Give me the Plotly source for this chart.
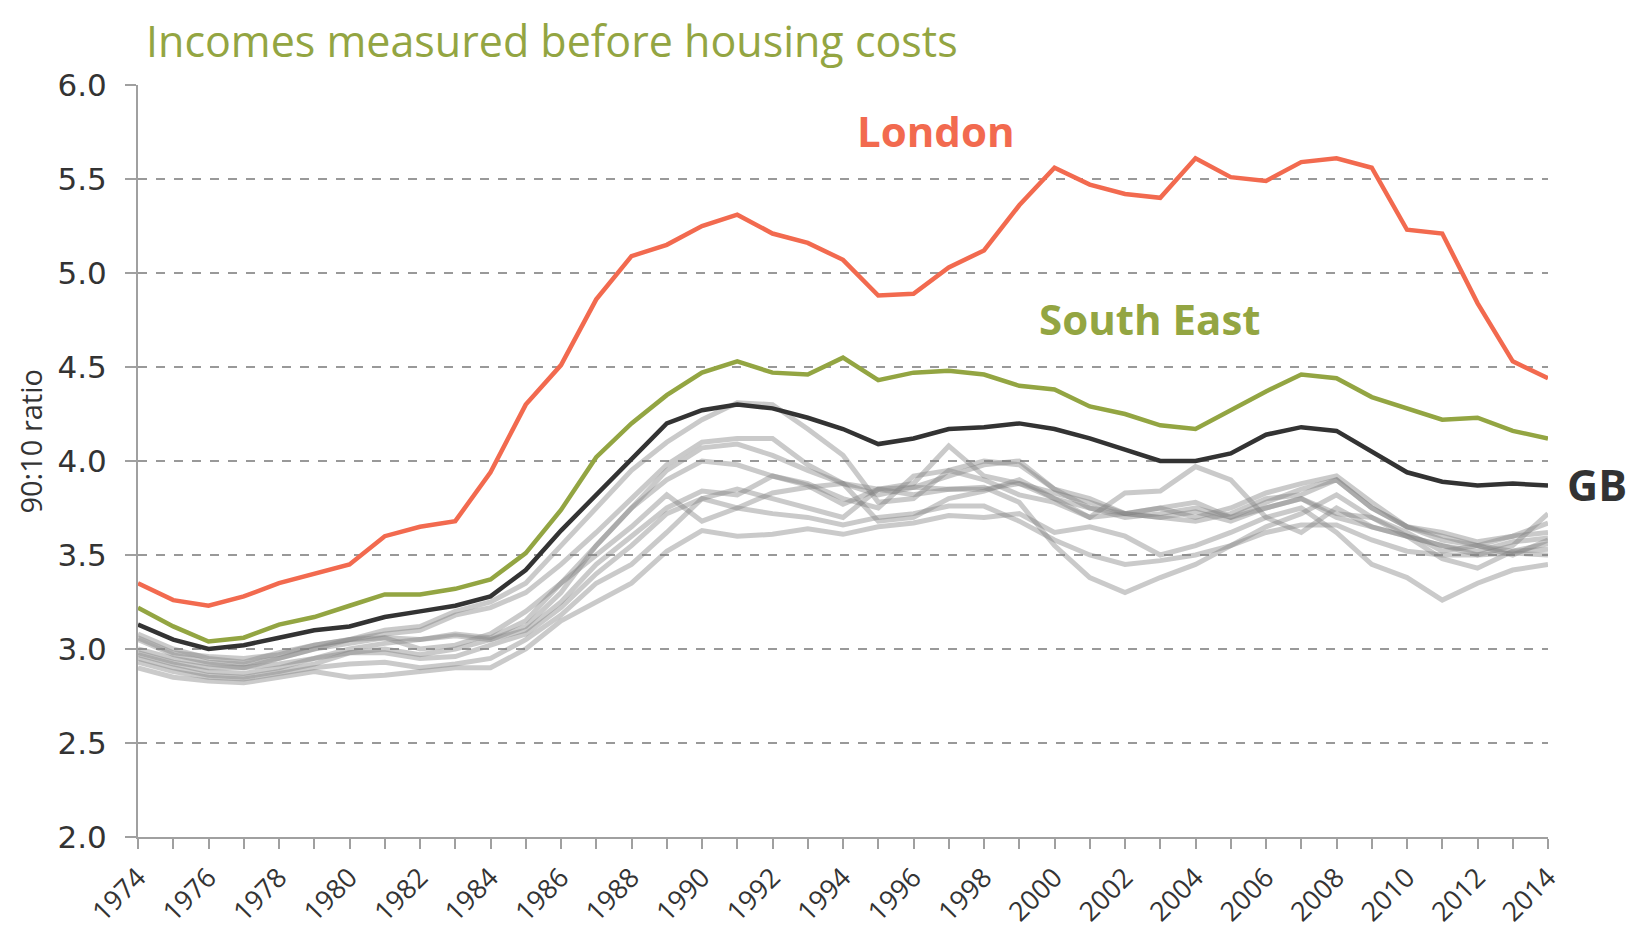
import plotly.graph_objects as go

years = list(range(1974, 2015))

london = [3.35, 3.26, 3.23, 3.28, 3.35, 3.40, 3.45, 3.60, 3.65, 3.68,
          3.94, 4.30, 4.51, 4.86, 5.09, 5.15, 5.25, 5.31, 5.21, 5.16,
          5.07, 4.88, 4.89, 5.03, 5.12, 5.36, 5.56, 5.47, 5.42, 5.40,
          5.61, 5.51, 5.49, 5.59, 5.61, 5.56, 5.23, 5.21, 4.84, 4.53, 4.44]

south_east = [3.22, 3.12, 3.04, 3.06, 3.13, 3.17, 3.23, 3.29, 3.29, 3.32,
              3.37, 3.51, 3.74, 4.02, 4.20, 4.35, 4.47, 4.53, 4.47, 4.46,
              4.55, 4.43, 4.47, 4.48, 4.46, 4.40, 4.38, 4.29, 4.25, 4.19,
              4.17, 4.27, 4.37, 4.46, 4.44, 4.34, 4.28, 4.22, 4.23, 4.16, 4.12]

gb = [3.13, 3.05, 3.00, 3.02, 3.06, 3.10, 3.12, 3.17, 3.20, 3.23,
      3.28, 3.42, 3.63, 3.82, 4.01, 4.20, 4.27, 4.30, 4.28, 4.23,
      4.17, 4.09, 4.12, 4.17, 4.18, 4.20, 4.17, 4.12, 4.06, 4.00,
      4.00, 4.04, 4.14, 4.18, 4.16, 4.05, 3.94, 3.89, 3.87, 3.88, 3.87]

region_1 = [3.05, 2.97, 2.93, 2.92, 2.95, 3.00, 3.05, 3.10, 3.12, 3.20,
            3.25, 3.35, 3.55, 3.75, 3.95, 4.10, 4.22, 4.31, 4.30, 4.17,
            4.03, 3.78, 3.80, 3.95, 3.90, 3.82, 3.78, 3.70, 3.83, 3.84,
            3.97, 3.90, 3.70, 3.62, 3.75, 3.65, 3.60, 3.55, 3.50, 3.55, 3.72]
region_2 = [3.08, 3.00, 2.95, 2.93, 2.98, 3.02, 3.05, 3.08, 3.10, 3.18,
            3.22, 3.30, 3.45, 3.62, 3.80, 3.98, 4.10, 4.12, 4.12, 3.98,
            3.88, 3.82, 3.86, 3.92, 3.98, 4.00, 3.85, 3.80, 3.72, 3.75,
            3.70, 3.75, 3.83, 3.88, 3.92, 3.78, 3.65, 3.58, 3.55, 3.52, 3.53]
region_3 = [3.06, 2.98, 2.96, 2.95, 2.97, 3.02, 3.05, 3.06, 3.05, 3.08,
            3.06, 3.15, 3.35, 3.55, 3.75, 3.95, 4.07, 4.09, 4.03, 3.95,
            3.88, 3.85, 3.88, 4.08, 3.92, 3.88, 3.80, 3.75, 3.70, 3.72,
            3.75, 3.70, 3.78, 3.85, 3.90, 3.75, 3.65, 3.60, 3.55, 3.50, 3.58]
region_4 = [3.00, 2.95, 2.92, 2.90, 2.92, 2.95, 3.00, 3.03, 3.05, 3.07,
            3.05, 3.12, 3.30, 3.55, 3.75, 3.90, 4.00, 3.98, 3.92, 3.88,
            3.80, 3.75, 3.92, 3.95, 4.00, 3.98, 3.85, 3.75, 3.72, 3.70,
            3.68, 3.72, 3.80, 3.82, 3.90, 3.75, 3.65, 3.62, 3.57, 3.60, 3.67]
region_5 = [2.98, 2.93, 2.90, 2.90, 2.95, 3.00, 3.03, 3.06, 3.00, 3.02,
            3.08, 3.20, 3.35, 3.50, 3.65, 3.82, 3.68, 3.75, 3.83, 3.86,
            3.88, 3.68, 3.70, 3.80, 3.84, 3.90, 3.80, 3.70, 3.72, 3.75,
            3.78, 3.70, 3.75, 3.80, 3.72, 3.70, 3.62, 3.52, 3.55, 3.60, 3.62]
region_6 = [2.97, 2.92, 2.88, 2.87, 2.90, 2.95, 2.98, 3.00, 2.97, 3.00,
            3.05, 3.10, 3.25, 3.45, 3.60, 3.75, 3.84, 3.82, 3.92, 3.87,
            3.77, 3.85, 3.82, 3.85, 3.85, 3.88, 3.83, 3.78, 3.72, 3.70,
            3.73, 3.68, 3.75, 3.80, 3.70, 3.65, 3.60, 3.55, 3.52, 3.57, 3.59]
region_7 = [2.95, 2.90, 2.86, 2.85, 2.88, 2.92, 2.98, 2.98, 2.95, 2.96,
            3.02, 3.08, 3.22, 3.40, 3.55, 3.72, 3.80, 3.85, 3.80, 3.75,
            3.70, 3.85, 3.86, 3.85, 3.86, 3.78, 3.55, 3.38, 3.30, 3.38,
            3.45, 3.55, 3.65, 3.72, 3.82, 3.70, 3.60, 3.48, 3.43, 3.52, 3.56]
region_8 = [2.93, 2.88, 2.85, 2.84, 2.87, 2.90, 2.92, 2.93, 2.90, 2.92,
            2.95, 3.05, 3.18, 3.35, 3.45, 3.62, 3.80, 3.75, 3.72, 3.70,
            3.66, 3.70, 3.72, 3.76, 3.76, 3.68, 3.58, 3.50, 3.45, 3.47,
            3.50, 3.55, 3.62, 3.66, 3.66, 3.58, 3.52, 3.50, 3.50, 3.51, 3.50]
region_9 = [2.90, 2.85, 2.83, 2.82, 2.85, 2.88, 2.85, 2.86, 2.88, 2.90,
            2.90, 3.00, 3.15, 3.25, 3.35, 3.52, 3.63, 3.60, 3.61, 3.64,
            3.61, 3.65, 3.67, 3.71, 3.70, 3.72, 3.62, 3.65, 3.60, 3.50,
            3.55, 3.62, 3.70, 3.75, 3.62, 3.45, 3.38, 3.26, 3.35, 3.42, 3.45]

regions = [region_1, region_2, region_3, region_4, region_5,
           region_6, region_7, region_8, region_9]

x_tick_text = [str(y) if y % 2 == 0 else "" for y in years]
y_tick_vals = [2.0, 2.5, 3.0, 3.5, 4.0, 4.5, 5.0, 5.5, 6.0]
y_tick_text = ["2.0", "2.5", "3.0", "3.5", "4.0", "4.5", "5.0", "5.5", "6.0"]

fig = go.Figure()
for r in regions:
    fig.add_trace(go.Scatter(x=years, y=r, mode="lines",
                             line=dict(color="rgba(128,128,128,0.42)", width=5),
                             hoverinfo="skip", showlegend=False))
fig.add_trace(go.Scatter(x=years, y=gb, mode="lines", name="GB",
                         line=dict(color="#333333", width=4.5), showlegend=False))
fig.add_trace(go.Scatter(x=years, y=south_east, mode="lines", name="South East",
                         line=dict(color="#93a542", width=4.5), showlegend=False))
fig.add_trace(go.Scatter(x=years, y=london, mode="lines", name="London",
                         line=dict(color="#f26a4f", width=4.5), showlegend=False))

fig.update_layout(
    width=1646, height=935,
    margin=dict(l=129.5, r=106, t=77, b=106),
    plot_bgcolor="white", paper_bgcolor="white",
    font=dict(family="Open Sans, Noto Sans, sans-serif", color="#333333"),
    xaxis=dict(range=[1974, 2014], tickvals=years, ticktext=x_tick_text,
               tickangle=-45, ticks="outside", ticklen=10, tickwidth=1.5,
               tickcolor="#a0a0a0", showline=True, linecolor="#a0a0a0",
               linewidth=2, showgrid=False, zeroline=False, automargin=False,
               ticklabelstandoff=2,
               tickfont=dict(size=27, color="#333333")),
    yaxis=dict(range=[2.0, 6.0], tickvals=y_tick_vals, ticktext=y_tick_text,
               ticks="outside", ticklen=11, tickwidth=1.5, tickcolor="#a0a0a0",
               showline=True, linecolor="#a0a0a0", linewidth=2,
               showgrid=True, gridcolor="#999999", griddash="dash", gridwidth=1.5,
               zeroline=False, ticklabelstandoff=12, automargin=False,
               tickfont=dict(family="DejaVu Sans, Verdana, sans-serif", size=31, color="#333333")),
    annotations=[
        dict(text="Incomes measured before housing costs", xref="paper", yref="paper",
             x=0.004, y=1.101, xanchor="left", yanchor="top", showarrow=False,
             font=dict(size=43, color="#93a542")),
        dict(text="90:10 ratio", xref="paper", yref="paper", x=-0.0765, y=0.526,
             xanchor="center", yanchor="middle", textangle=-90, showarrow=False,
             font=dict(size=29, color="#333333")),
        dict(text="<b>London</b>", x=1996.65, y=5.76, xref="x", yref="y",
             showarrow=False, font=dict(size=42, color="#f26a4f")),
        dict(text="<b>South East</b>", x=2002.7, y=4.76, xref="x", yref="y",
             showarrow=False, font=dict(size=42, color="#93a542")),
        dict(text="<b>GB</b>", xref="paper", yref="y", x=1.012, y=3.875,
             xanchor="left", yanchor="middle", showarrow=False,
             font=dict(size=43, color="#333333")),
    ],
)

fig.write_html("out.html")
